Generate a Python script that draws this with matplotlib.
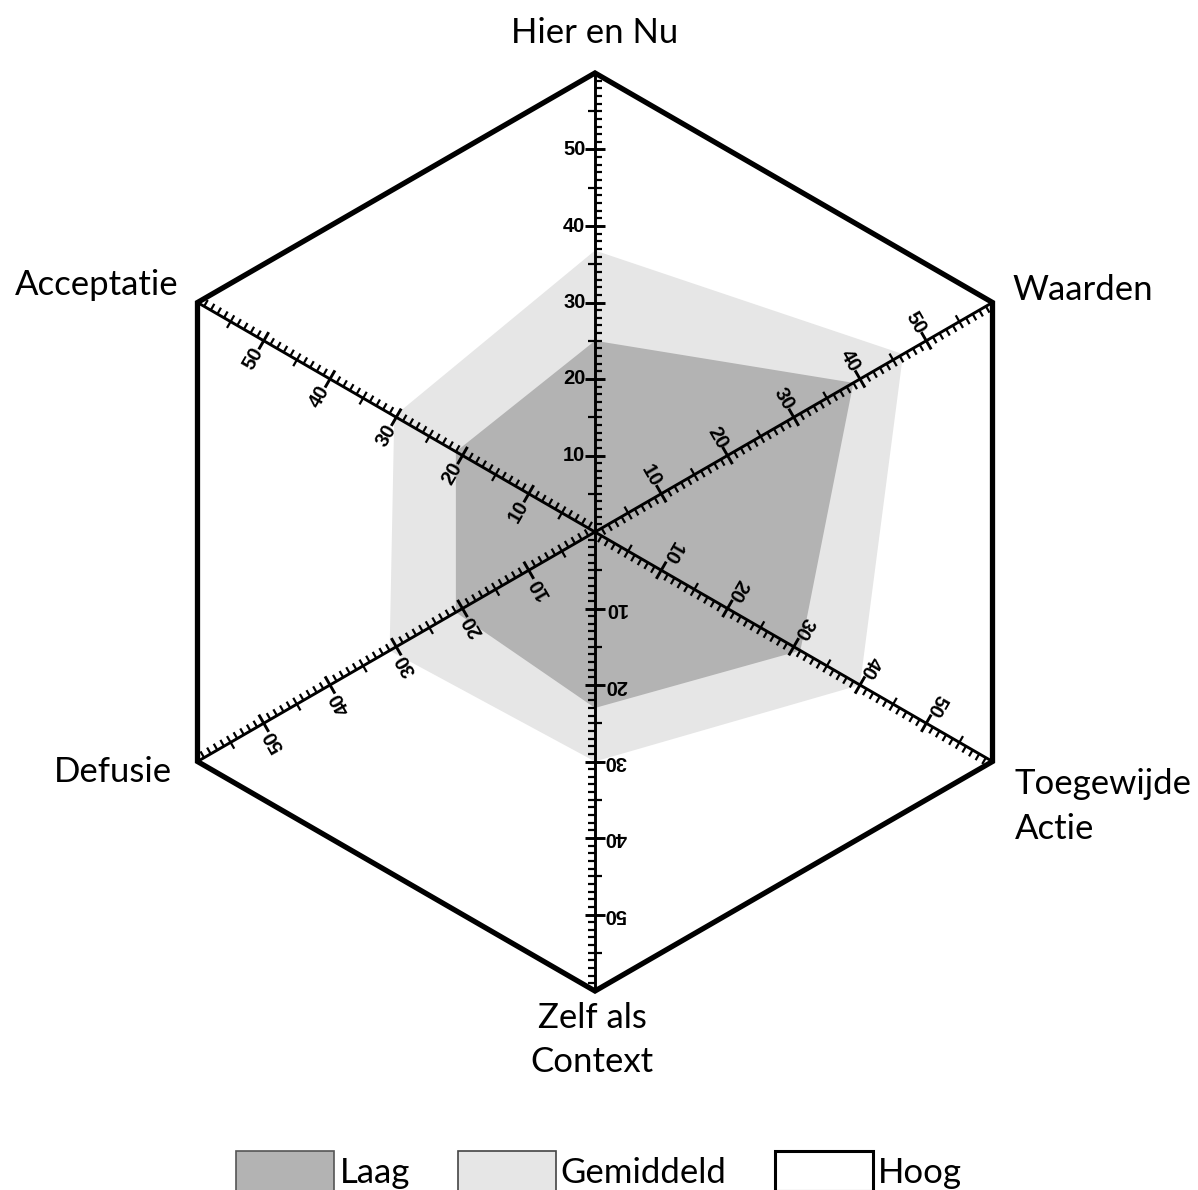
import numpy as np
import matplotlib
matplotlib.use('Agg')
import matplotlib.pyplot as plt
from matplotlib.collections import LineCollection
from matplotlib.patches import Patch

# ---------------- data ----------------
categories = ['Hier en Nu', 'Waarden', 'Toegewijde\nActie',
              'Zelf als\nContext', 'Defusie', 'Acceptatie']
laag = [25, 39, 31, 23, 21, 21]
gemiddeld = [36.8, 46.5, 40, 30, 31, 30.3]
hoog = [60, 60, 60, 60, 60, 60]
series_names = ['Laag', 'Gemiddeld', 'Hoog']
tick_values = [10, 20, 30, 40, 50]
r_max = 60

# ---------------- style ----------------
c_laag = '#b3b3b3'
c_gem = '#e6e6e6'
label_font = 'Lato'
tick_font = 'Liberation Sans'
label_size = 25

W, H = 1198, 1190
cx, cy = 595, 532          # centre in pixels
s = 459 / r_max            # pixels per unit

fig = plt.figure(figsize=(W / 100, H / 100), dpi=100)
ax = fig.add_axes([0, 0, 1, 1])
ax.set_xlim(-cx / s, (W - cx) / s)
ax.set_ylim(-(H - cy) / s, cy / s)
ax.axis('off')

n = len(categories)
theta = np.deg2rad(90 - 360 / n * np.arange(n))
ux, uy = np.cos(theta), np.sin(theta)


def poly(vals):
    v = np.asarray(vals, float)
    return v * ux, v * uy


# filled series
x, y = poly(gemiddeld)
ax.fill(x, y, color=c_gem, lw=0, zorder=1)
x, y = poly(laag)
ax.fill(x, y, color=c_laag, lw=0, zorder=2)
x, y = poly(hoog)
ax.fill(x, y, facecolor='none', edgecolor='black', lw=3.8,
        joinstyle='miter', zorder=5)

# axes with ticks
minor, major = [], []
for k in range(n):
    d = np.array([ux[k], uy[k]])
    nr = np.array([d[1], -d[0]])     # right normal
    nl = -nr                          # left normal
    major.append([(0, 0), tuple(d * r_max)])
    for v in range(1, r_max):
        p = d * v
        if v % 10 == 0:
            major.append([tuple(p - nr * 1.3), tuple(p + nr * 1.3)])
        elif v % 5 == 0:
            minor.append([tuple(p - nr * 0.95), tuple(p + nr * 0.95)])
        else:
            minor.append([tuple(p), tuple(p + nr * 0.95)])
    rot = np.rad2deg(theta[k]) - 90
    for v in tick_values:
        p = d * v + nl * 2.7
        ax.text(p[0], p[1], str(v), rotation=rot, rotation_mode='anchor',
                ha='center', va='center', fontsize=14.5, fontweight='bold',
                family=tick_font, zorder=6)

ax.add_collection(LineCollection(minor, colors='black', linewidths=1.6,
                                 zorder=4, capstyle='butt'))
ax.add_collection(LineCollection(major, colors='black', linewidths=2.1,
                                 zorder=4, capstyle='butt'))

# category labels (offsets in pixels from each vertex)
lab_off = [(0, 40, 'center'), (20, 12, 'left'), (22, -45, 'left'),
           (-3, -49, 'center'), (-25, -11, 'right'), (-19, 17, 'right')]
for k, name in enumerate(categories):
    dx, dy, ha = lab_off[k]
    px = ux[k] * r_max + dx / s
    py = uy[k] * r_max + dy / s
    ax.text(px, py, name, ha=ha, va='center', fontsize=label_size,
            family=label_font, linespacing=1.5, multialignment=ha)

# legend
handles = [Patch(facecolor=c_laag, edgecolor='#555555', lw=1.2),
           Patch(facecolor=c_gem, edgecolor='#444444', lw=1.2),
           Patch(facecolor='white', edgecolor='black', lw=2.2)]
leg = fig.legend(handles, series_names, ncol=3, frameon=False,
                 loc='center', bbox_to_anchor=(599 / W, 1 - 1171 / H),
                 prop={'family': label_font, 'size': label_size},
                 handlelength=2.82, handleheight=1.4, handletextpad=0.15,
                 columnspacing=1.38, borderaxespad=0)

fig.savefig('out.png', dpi=100)
